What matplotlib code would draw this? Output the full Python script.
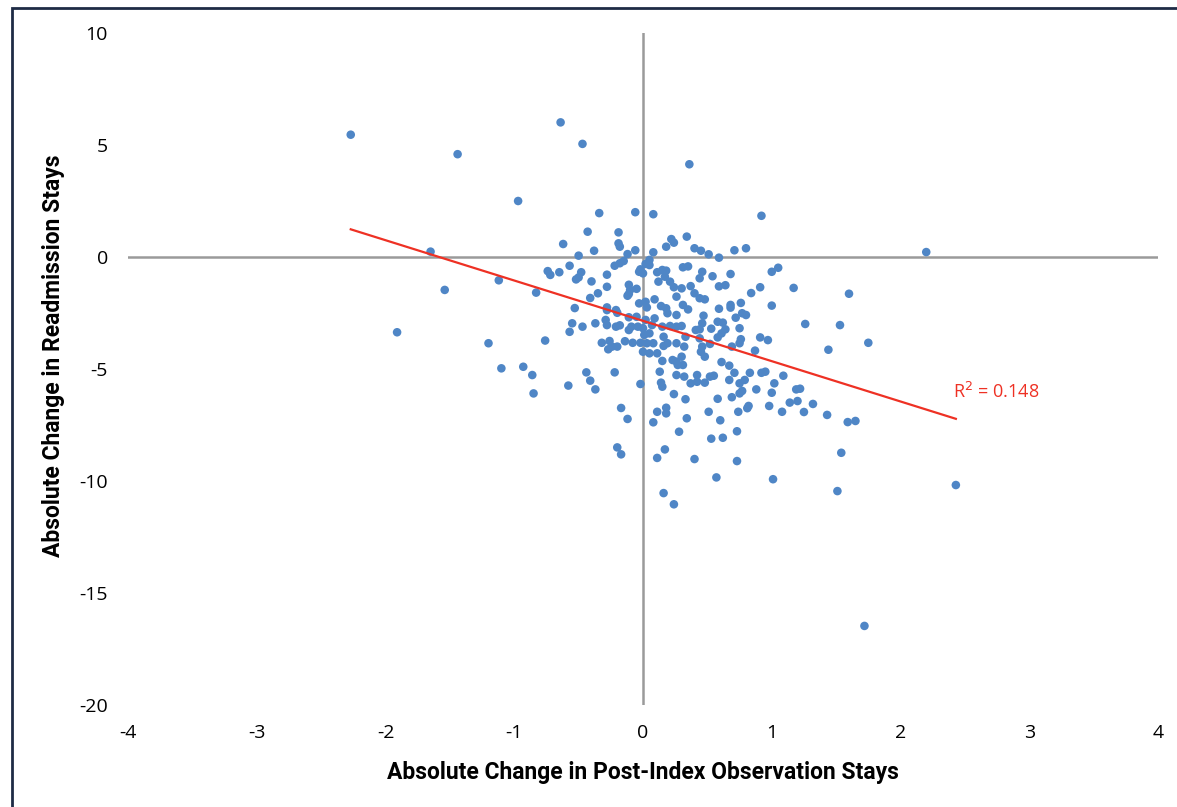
import numpy as np
import matplotlib
matplotlib.use("Agg")
import matplotlib.pyplot as plt
from matplotlib.patches import Rectangle

# Значения
obs_change = [
    -2.27, -1.44, -0.64, -0.47, 0.36, -0.97, -0.34, -0.06, 0.08, 0.92,
    2.20, -1.65, -1.12, -1.54, -1.91, -1.20, -1.10, -0.93, -0.86, -0.85,
    -0.83, -0.76, -0.58, -0.43, -0.19, -0.19, -0.18, -0.62, -0.38, -0.06,
    -0.12, -0.50, 0.08, 0.05, 0.02, 0.05, -0.15, -0.18, -0.22, -0.02,
    0.00, -0.03, 0.22, 0.24, 0.18, -0.57, -0.74, -0.72, -0.65, -0.48,
    -0.50, -0.52, -0.40, -0.28, -0.28, -0.35, -0.41, -0.11, -0.10, -0.05,
    -0.11, -0.12, 0.11, 0.15, 0.18, 0.17, 0.12, 0.21, 0.24, 0.26,
    -0.53, -0.28, -0.28, -0.03, 0.02, 0.03, 0.09, 0.14, 0.18, 0.19,
    0.26, -0.21, -0.20, -0.29, -0.28, -0.21, -0.11, -0.05, -0.09, -0.11,
    0.02, 0.07, 0.09, -0.55, -0.57, -0.47, -0.37, -0.18, -0.32, -0.26,
    -0.24, -0.20, -0.14, -0.08, -0.02, 0.01, 0.05, 0.08, 0.16, 0.19,
    0.15, 0.21, 0.26, -0.04, 0.00, -0.27, 0.03, 0.00, 0.05, 0.11,
    0.16, 0.26, 0.15, 0.23, 0.26, 0.27, 0.13, 0.26, 0.14, 0.15,
    0.24, -0.02, -0.22, -0.44, -0.41, -0.37, -0.17, -0.12, 0.11, 0.18,
    0.18, 0.08, 0.28, -0.20, -0.17, 0.17, 0.11, 0.16, 0.24, 0.32,
    0.37, 0.42, 0.42, 0.48, 0.52, 0.55, 0.33, 0.34, 0.40, 0.57,
    0.51, 0.58, 0.60, 0.53, 0.62, 0.73, 0.73, 0.67, 0.71, 0.75,
    0.79, 0.77, 0.75, 0.69, 0.83, 0.74, 0.81, 0.82, 0.88, 0.92,
    0.95, 1.02, 1.00, 1.09, 0.98, 1.08, 1.14, 1.20, 1.19, 1.22,
    1.25, 1.32, 1.43, 1.59, 1.65, 1.54, 1.51, 1.01, 2.43, 1.72,
    0.34, 0.40, 0.45, 0.51, 0.59, 0.71, 0.80, 0.31, 0.35, 0.46,
    0.44, 0.54, 0.68, 1.00, 1.05, 0.30, 0.37, 0.40, 0.44, 0.48,
    0.59, 0.64, 0.84, 0.91, 1.17, 1.60, 0.31, 0.35, 0.59, 0.68,
    0.68, 0.76, 1.00, 0.77, 0.80, 0.72, 0.47, 0.46, 0.44, 0.41,
    0.58, 0.62, 0.64, 0.61, 0.58, 0.53, 0.75, 1.26, 1.53, 0.30,
    0.33, 0.32, 0.44, 0.46, 0.45, 0.48, 0.52, 0.69, 0.76, 0.75,
    0.91, 0.97, 0.87, 1.44, 1.75, 0.30, 0.31, 0.61, 0.67,
]

readm_change = [
    5.46, 4.59, 6.01, 5.05, 4.14, 2.50, 1.96, 2.00, 1.91, 1.84,
    0.22, 0.24, -1.04, -1.47, -3.36, -3.85, -4.97, -4.90, -5.27, -6.09,
    -1.59, -3.73, -5.74, 1.13, 1.10, 0.61, 0.46, 0.58, 0.28, 0.30,
    0.13, 0.06, 0.21, -0.13, -0.31, -0.36, -0.18, -0.28, -0.39, -0.55,
    -0.73, -0.66, 0.80, 0.64, 0.46, -0.39, -0.63, -0.80, -0.68, -0.68,
    -0.91, -1.00, -1.09, -0.79, -1.33, -1.62, -1.83, -1.24, -1.47, -1.42,
    -1.65, -1.73, -0.68, -0.58, -0.61, -0.88, -1.10, -1.10, -1.35, -1.77,
    -2.28, -2.25, -2.37, -2.07, -2.00, -2.25, -1.89, -2.19, -2.29, -2.51,
    -2.59, -2.37, -2.49, -2.81, -3.04, -3.11, -2.69, -2.67, -3.11, -3.26,
    -2.81, -3.04, -2.74, -2.96, -3.34, -3.11, -2.96, -3.05, -3.83, -3.75,
    -4.00, -4.00, -3.76, -3.83, -3.83, -3.48, -3.41, -3.85, -3.56, -3.85,
    -3.11, -3.08, -3.11, -3.11, -3.18, -4.12, -3.85, -4.23, -4.30, -4.30,
    -3.97, -3.85, -4.64, -4.60, -4.67, -4.82, -5.12, -5.27, -5.61, -5.79,
    -6.12, -5.67, -5.15, -5.15, -5.52, -5.91, -6.74, -7.23, -6.91, -6.73,
    -6.98, -7.38, -7.80, -8.50, -8.81, -8.59, -8.97, -10.54, -11.04, -5.34,
    -5.64, -5.27, -5.57, -5.61, -5.34, -5.30, -6.35, -7.20, -9.02, -9.84,
    -6.91, -6.33, -7.29, -8.11, -8.07, -7.78, -9.11, -5.49, -5.17, -5.64,
    -5.49, -5.98, -6.09, -6.26, -5.17, -6.91, -6.75, -6.65, -5.91, -5.17,
    -5.12, -5.64, -6.06, -5.30, -6.65, -6.91, -6.50, -6.43, -5.91, -5.88,
    -6.92, -6.56, -7.05, -7.37, -7.32, -8.74, -10.45, -9.92, -10.18, -16.47,
    0.91, 0.39, 0.28, 0.12, -0.03, 0.30, 0.39, -0.46, -0.42, -0.66,
    -0.95, -0.86, -0.76, -0.66, -0.48, -1.40, -1.30, -1.62, -1.84, -1.89,
    -1.31, -1.26, -1.61, -1.35, -1.38, -1.64, -2.14, -2.34, -2.31, -2.14,
    -2.26, -2.05, -2.17, -2.51, -2.59, -2.71, -2.62, -2.96, -3.23, -3.26,
    -2.89, -2.93, -3.23, -3.41, -3.59, -3.20, -3.18, -2.99, -3.04, -3.08,
    -3.56, -4.00, -3.63, -4.00, -4.23, -4.45, -3.88, -4.00, -3.67, -3.85,
    -3.59, -3.71, -4.18, -4.14, -3.83, -4.45, -4.82, -4.69, -4.85,
]

# Линия тренда (как подписана на графике)
trend_slope = -1.80
trend_intercept = -2.85
r2_label = "R$^2$ = 0.148"

x_ticks = [-4, -3, -2, -1, 0, 1, 2, 3, 4]
y_ticks = [-20, -15, -10, -5, 0, 5, 10]

plt.rcParams['axes.unicode_minus'] = False
plt.rcParams['font.family'] = ['Open Sans', 'DejaVu Sans']
label_font = ['Roboto', 'DejaVu Sans']

fig = plt.figure(figsize=(11.77, 8.07), dpi=100)
ax = fig.add_axes([128 / 1177, 1 - 705 / 807, 1030 / 1177, 672 / 807])

# Оси через ноль
ax.axhline(0, color='#9a9a9a', lw=1.8, zorder=1)
ax.axvline(0, color='#9a9a9a', lw=1.8, zorder=1)

ax.scatter(obs_change, readm_change, s=38, color='#4F86C6', edgecolors='none', zorder=3)

x_line = np.array([min(obs_change), max(obs_change)])
ax.plot(x_line, trend_slope * x_line + trend_intercept, color='#EE3124', lw=1.6, zorder=4)
ax.text(2.41, -6.03, r2_label, color='#EE3124', fontsize=13, va='center', ha='left')

ax.set_xlim(-4, 4)
ax.set_ylim(-20, 10)
ax.set_xticks(x_ticks)
ax.set_yticks(y_ticks)
ax.tick_params(length=0, labelsize=14, pad=14)
ax.tick_params(axis='y', pad=14.5)
for s in ax.spines.values():
    s.set_visible(False)

ax.set_xlabel('Absolute Change in Post-Index Observation Stays', fontsize=16.5,
              fontweight='bold', family=label_font, labelpad=13)
ax.set_ylabel('Absolute Change in Readmission Stays', fontsize=16.5,
              fontweight='bold', family=label_font)
ax.yaxis.set_label_coords(-0.061, 0.52)

# Рамка вокруг рисунка (видна слева и сверху)
fig.add_artist(Rectangle((12 / 1177, -0.1), 1.2, 1.1 - 8 / 807, transform=fig.transFigure,
                         fill=False, edgecolor='#1E2B45', lw=2))

fig.savefig('out.png', dpi=100)
